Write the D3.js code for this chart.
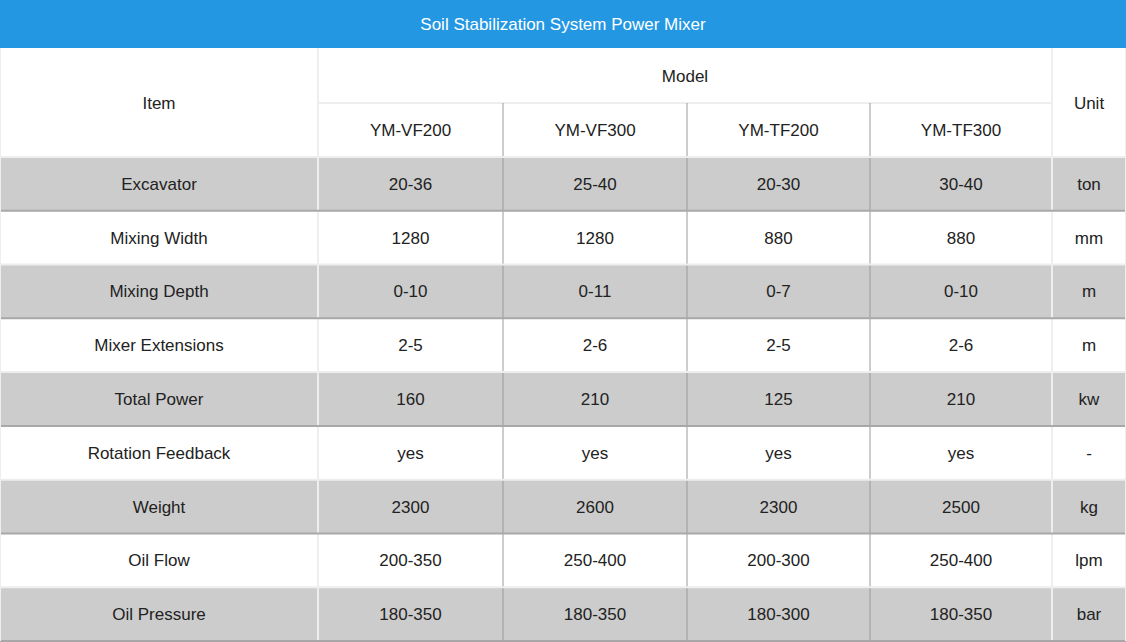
<!DOCTYPE html>
<html><head><meta charset="utf-8">
<script src="https://cdn.jsdelivr.net/npm/d3@7"></script>
<style>body{margin:0;background:#fff}</style>
</head><body><svg id="chart"></svg>
<script>
const title = 'Soil Stabilization System Power Mixer';
const models = ['YM-VF200', 'YM-VF300', 'YM-TF200', 'YM-TF300'];
const items = ['Excavator', 'Mixing Width', 'Mixing Depth', 'Mixer Extensions', 'Total Power', 'Rotation Feedback', 'Weight', 'Oil Flow', 'Oil Pressure'];
const units = ['ton', 'mm', 'm', 'm', 'kw', '-', 'kg', 'lpm', 'bar'];
const values = [
  ['20-36', '25-40', '20-30', '30-40'],
  ['1280', '1280', '880', '880'],
  ['0-10', '0-11', '0-7', '0-10'],
  ['2-5', '2-6', '2-5', '2-6'],
  ['160', '210', '125', '210'],
  ['yes', 'yes', 'yes', 'yes'],
  ['2300', '2600', '2300', '2500'],
  ['200-350', '250-400', '200-300', '250-400'],
  ['180-350', '180-350', '180-300', '180-350']
];

const width = 1126, height = 642;
const svg = d3.select('#chart').attr('width', width).attr('height', height)
  .style('font-family', '"Liberation Sans", Arial, sans-serif');

// column edges
const colX = [0, 318, 503, 687, 870, 1052, 1126];
const titleH = 48, headTop = 48, headMid = 103, bodyTop = 157, bodyBottom = 641;
const y = d3.scaleBand().domain(d3.range(items.length)).range([bodyTop, bodyBottom]);

// title bar
svg.append('rect').attr('width', width).attr('height', titleH).attr('fill', '#2397e2');
svg.append('text').attr('x', width / 2).attr('y', titleH / 2 + 6).attr('text-anchor', 'middle')
  .attr('fill', '#fff').attr('font-size', 17).text(title);

// header
const txt = (x, yy, s) => svg.append('text').attr('x', x).attr('y', yy + 6)
  .attr('text-anchor', 'middle').attr('font-size', 17).attr('fill', '#222').text(s);
txt((colX[0] + colX[1]) / 2, (headTop + bodyTop) / 2, 'Item');
txt((colX[1] + colX[5]) / 2, (headTop + headMid) / 2, 'Model');
txt((colX[5] + colX[6]) / 2, (headTop + bodyTop) / 2, 'Unit');
models.forEach((m, i) => txt((colX[i + 1] + colX[i + 2]) / 2, (headMid + bodyTop) / 2, m));

// body rows
items.forEach((it, r) => {
  const y0 = y(r), h = y.bandwidth();
  svg.append('rect').attr('x', 0).attr('y', y0).attr('width', width).attr('height', h)
    .attr('fill', r % 2 === 0 ? '#cccccc' : '#fff');
  txt((colX[0] + colX[1]) / 2, y0 + h / 2, it);
  values[r].forEach((v, i) => txt((colX[i + 1] + colX[i + 2]) / 2, y0 + h / 2, v));
  txt((colX[5] + colX[6]) / 2, y0 + h / 2, units[r]);
});

// grid lines
const line = (x1, y1, x2, y2, c, w) => svg.append('line').attr('x1', x1).attr('y1', y1)
  .attr('x2', x2).attr('y2', y2).attr('stroke', c).attr('stroke-width', w || 1);
line(colX[1], headMid, colX[5], headMid, '#eeeeee', 2);
[1, 5].forEach(i => line(colX[i], headTop, colX[i], bodyBottom, '#eeeeee', 2));
[2, 3, 4].forEach(i => line(colX[i], headMid, colX[i], bodyBottom, '#9a9a9a', 1));
line(0, bodyTop, width, bodyTop, '#eeeeee', 2);
items.forEach((it, r) => {
  const yb = y(r) + y.bandwidth();
  line(0, yb, width, yb, r % 2 === 0 ? '#a8a8a8' : '#eeeeee', 2);
});
line(0, headTop, 0, bodyBottom, '#eeeeee', 2);
line(width, headTop, width, bodyBottom, '#eeeeee', 2);
</script></body></html>
